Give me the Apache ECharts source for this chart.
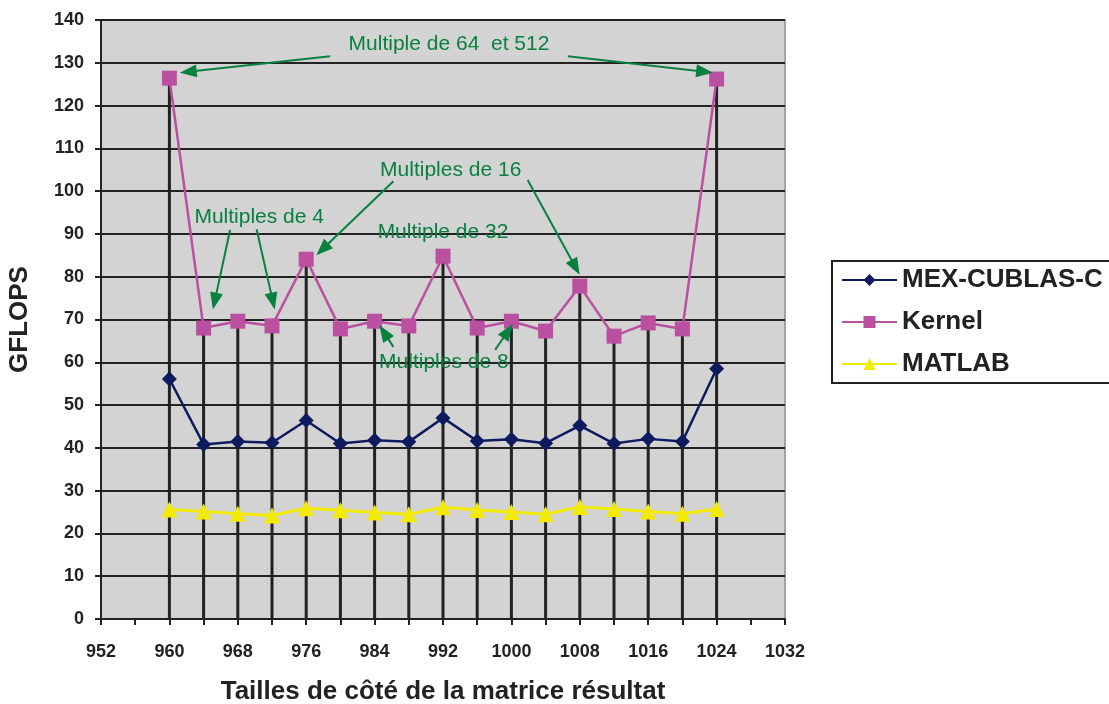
<!DOCTYPE html>
<html>
<head>
<meta charset="utf-8">
<script src="https://cdn.jsdelivr.net/npm/echarts@6/dist/echarts.min.js"></script>
<style>
html,body{margin:0;padding:0;background:#fff;}
#c{width:1109px;height:704px;}
</style>
</head>
<body>
<div id="c"></div>
<script>
// ---- data ----
const sizes = [960, 964, 968, 972, 976, 980, 984, 988, 992, 996, 1000, 1004, 1008, 1012, 1016, 1020, 1024];
const mexCublas = [56.1, 40.8, 41.5, 41.2, 46.4, 41.0, 41.8, 41.4, 47.0, 41.6, 42.0, 41.1, 45.2, 41.0, 42.1, 41.5, 58.5];
const kernel = [126.4, 68.0, 69.6, 68.5, 84.1, 67.8, 69.6, 68.5, 84.8, 68.0, 69.6, 67.3, 77.8, 66.1, 69.2, 67.8, 126.2];
const matlab = [25.6, 25.1, 24.6, 24.2, 25.9, 25.4, 24.9, 24.5, 26.1, 25.5, 25.0, 24.5, 26.2, 25.7, 25.1, 24.6, 25.7];
const seriesNames = ['MEX-CUBLAS-C', 'Kernel', 'MATLAB'];
const xAxisTitle = 'Tailles de côté de la matrice résultat';
const yAxisTitle = 'GFLOPS';

// annotations (data coordinates)
const annoTexts = [
  {text: 'Multiple de 64  et 512', at: [992.7, 134.3]},
  {text: 'Multiples de 16', at: [992.9, 104.9]},
  {text: 'Multiples de 4', at: [970.5, 93.9]},
  {text: 'Multiple de 32', at: [992.0, 90.4]},
  {text: 'Multiples de 8', at: [992.1, 60.0]}
];
const annoArrows = [
  [[978.8, 131.5], [962.2, 127.9]],
  [[1006.6, 131.5], [1022.6, 127.9]],
  [[986.2, 102.3], [977.9, 86.4]],
  [[1001.9, 102.6], [1007.5, 82.2]],
  [[967.1, 90.9], [965.3, 74.3]],
  [[970.2, 91.1], [972.1, 74.3]],
  [[986.2, 63.6], [985.1, 67.0]],
  [[998.1, 62.9], [999.6, 67.3]]
];

const green = '#088040';
const ink = '#222222';
const font = 'Liberation Sans, Arial, sans-serif';

const toPairs = (arr) => sizes.map((x, i) => [x, arr[i]]);

const chart = echarts.init(document.getElementById('c'), null, {renderer: 'canvas'});
chart.setOption({
  animation: false,
  backgroundColor: '#ffffff',
  textStyle: {fontFamily: font},
  grid: {
    left: 101, right: 324, top: 20, bottom: 85,
    outerBoundsMode: 'none', containLabel: false,
    show: true, backgroundColor: '#d3d3d3', borderColor: '#a3a3a3', borderWidth: 2
  },
  legend: {
    data: seriesNames,
    orient: 'vertical',
    left: 832, top: 261,
    borderColor: ink, borderWidth: 2,
    padding: [6, 8, 6, 9],
    itemGap: 16,
    itemWidth: 55, itemHeight: 15,
    textStyle: {fontFamily: font, fontWeight: 'bold', fontSize: 26, color: ink}
  },
  xAxis: {
    type: 'value', min: 952, max: 1032, interval: 4,
    name: xAxisTitle, nameLocation: 'middle', nameGap: 60,
    nameTextStyle: {fontFamily: font, fontWeight: 'bold', fontSize: 26, color: ink},
    axisLine: {show: true, onZero: false, lineStyle: {color: ink, width: 2}},
    axisTick: {show: true, inside: false, length: 6, lineStyle: {color: ink, width: 2}},
    axisLabel: {
      margin: 24, fontFamily: font, fontWeight: 'bold', fontSize: 18, color: ink,
      formatter: (v) => (v % 8 === 0 ? String(v) : '')
    },
    splitLine: {show: false}
  },
  yAxis: {
    type: 'value', min: 0, max: 140, interval: 10,
    name: yAxisTitle, nameLocation: 'middle', nameGap: 68, nameRotate: 90,
    nameTextStyle: {fontFamily: font, fontWeight: 'bold', fontSize: 26, color: ink},
    axisLine: {show: true, lineStyle: {color: ink, width: 2}},
    axisTick: {show: true, inside: false, length: 6, lineStyle: {color: ink, width: 2}},
    axisLabel: {margin: 17, fontFamily: font, fontWeight: 'bold', fontSize: 18, color: ink},
    splitLine: {show: true, lineStyle: {color: ink, width: 2}}
  },
  series: [
    {
      name: 'drop', type: 'bar', data: toPairs(kernel), barWidth: 3,
      itemStyle: {color: ink}, silent: true, z: 1, legendHoverLink: false
    },
    {
      name: seriesNames[0], type: 'line', data: toPairs(mexCublas),
      symbol: 'diamond', symbolSize: 15, z: 3,
      lineStyle: {color: '#0d1b5e', width: 2.5},
      itemStyle: {color: '#0d1b5e'}
    },
    {
      name: seriesNames[1], type: 'line', data: toPairs(kernel),
      symbol: 'rect', symbolSize: 15, z: 3,
      lineStyle: {color: '#bb4fa0', width: 2.5},
      itemStyle: {color: '#bb4fa0'}
    },
    {
      name: seriesNames[2], type: 'line', data: toPairs(matlab),
      symbol: 'triangle', symbolSize: 16, z: 3,
      lineStyle: {color: '#f2ea00', width: 3},
      itemStyle: {color: '#f2ea00'}
    },
    {
      name: 'annotations', type: 'scatter', silent: true, z: 5,
      symbolSize: 0,
      data: annoTexts.map(a => ({name: a.text, value: a.at})),
      label: {
        show: true, position: 'inside', formatter: '{b}',
        color: green, fontSize: 21, fontFamily: font,
        textBorderWidth: 0, opacity: 1
      },
      markLine: {
        silent: true,
        symbol: ['none', 'triangle'],
        symbolSize: [13, 17],
        label: {show: false},
        lineStyle: {color: green, width: 2, type: 'solid', opacity: 1},
        emphasis: {disabled: true},
        data: annoArrows.map(a => [{coord: a[0]}, {coord: a[1]}])
      }
    }
  ]
});
</script>
</body>
</html>
